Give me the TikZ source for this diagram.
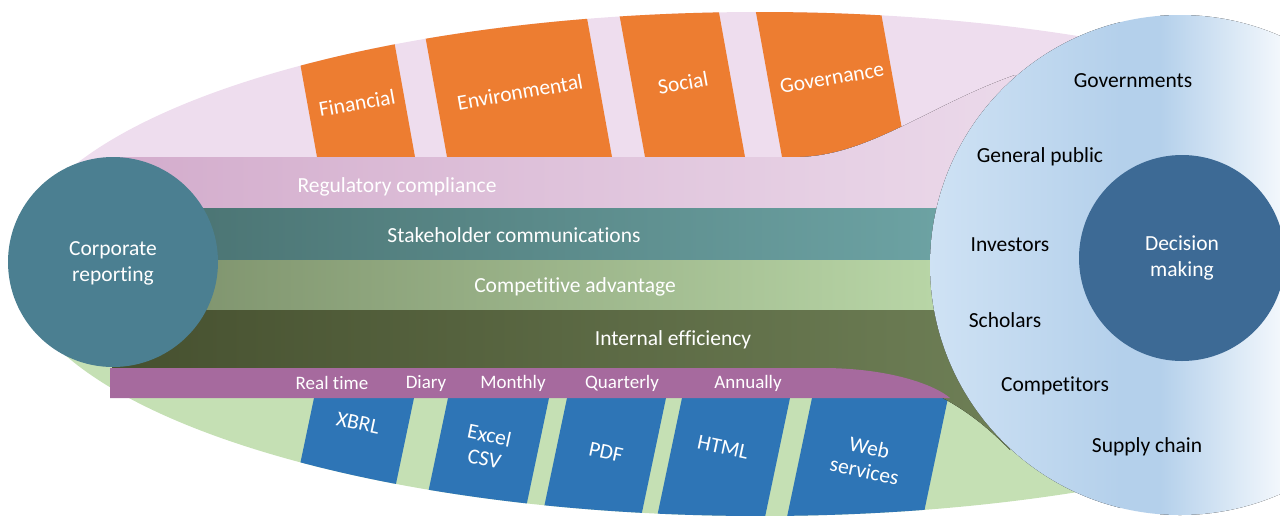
\documentclass[tikz,border=0pt]{standalone}
\usepackage{fontspec}
\setmainfont{Carlito}[Ligatures={NoCommon,NoRare,NoContextual}]
\definecolor{bgpink}{HTML}{EEDDEE}
\definecolor{bggreen}{HTML}{C5E0B4}
\definecolor{orangebox}{HTML}{ED7D31}
\definecolor{bluebox}{HTML}{2E75B6}
\definecolor{purplebar}{HTML}{A66A9E}
\definecolor{corpcirc}{HTML}{4B7F91}
\definecolor{deccirc}{HTML}{3D6A95}
\definecolor{regL}{HTML}{D3ACCC}
\definecolor{regR}{HTML}{EBD9EA}
\definecolor{stkL}{HTML}{48706F}
\definecolor{stkR}{HTML}{6FA6A7}
\definecolor{cmpL}{HTML}{7A8E69}
\definecolor{cmpR}{HTML}{BDDBAB}
\definecolor{intL}{HTML}{46502F}
\definecolor{intR}{HTML}{6E7F56}
\definecolor{bcA}{HTML}{CFE2F4}
\definecolor{bcB}{HTML}{B4D0EB}
\definecolor{bcD}{HTML}{F5F9FD}
\begin{document}
\begin{tikzpicture}[x=1pt,y=-1pt,
  bandtxt/.style={text=white,font=\fontsize{21.5}{26}\selectfont,align=center},
  bartxt/.style={text=white,font=\fontsize{19}{22}\selectfont},
  circtxt/.style={text=black,font=\fontsize{21.5}{26}\selectfont},
  boxtxt/.style={text=white,font=\fontsize{21.5}{24}\selectfont,align=center,inner sep=1pt},
]
\useasboundingbox (0,0) rectangle (1280,515);
% outer shape
\begin{scope}
  \clip (760,264) ellipse [x radius=745, y radius=252];
  \fill[bgpink] (0,-10) rectangle (1300,265);
  \fill[bggreen] (0,265) rectangle (1300,530);
  % orange boxes
  \foreach \l/\r in {317/415,447/612,645/745,782/907}{
    \fill[orangebox] ({\l+0.18*18},175) -- ({\r+0.18*18},175)
      -- ({\r-0.18*177},-20) -- ({\l-0.18*177},-20) -- cycle;
  }
  % blue boxes
  \foreach \l/\r in {314/414,448/549,567/666,682/790,812/948}{
    \fill[bluebox] ({\l+0.21*13},385) -- ({\r+0.21*13},385)
      -- ({\r-0.21*132},530) -- ({\l-0.21*132},530) -- cycle;
  }
\end{scope}
% bands
\fill[left color=regL,right color=regR]
  (112,157) -- (800,157) .. controls (870,155) and (930,105) .. (1015,75)
  -- (1015,209) -- (112,209) -- cycle;
\fill[left color=stkL,right color=stkR] (112,208) rectangle (1000,261);
\fill[left color=cmpL,right color=cmpR] (112,260) rectangle (1000,311);
\fill[left color=intL,right color=intR]
  (112,310) -- (1010,310) -- (1010,450) -- (1005,445)
  .. controls (950,390) and (890,368) .. (800,368) -- (112,368) -- cycle;
\fill[purplebar]
  (110,368) -- (822,368) .. controls (890,368) and (935,385) .. (950,398)
  -- (110,398) -- cycle;
% left circle
\fill[corpcirc] (113,262) circle[radius=105];
% big circle
\begin{scope}
  \clip (1180,265) circle[radius=250];
  \fill[left color=bcA,right color=bcB] (929,0) rectangle (1121,520);
  \fill[bcB] (1120,0) rectangle (1161,520);
  \fill[left color=bcB,right color=bcD] (1160,0) rectangle (1285,520);
\end{scope}
\fill[deccirc] (1182,258) circle[radius=103];
% band texts
\node[bandtxt] (reg) at (397,187) {Regulatory compliance};
\node[bandtxt] (stake) at (514,235) {Stakeholder communications};
\node[bandtxt] (comp) at (575,287) {Competitive advantage};
\node[bandtxt] (intl) at (673,340) {Internal efficiency};
% bar texts
\node[bartxt] (rt) at (332,383) {Real time};
\node[bartxt] (dy) at (426,383) {Diary};
\node[bartxt] (mo) at (513,383) {Monthly};
\node[bartxt] (qu) at (622,383) {Quarterly};
\node[bartxt] (an) at (748,383) {Annually};
% orange box texts
\node[boxtxt,rotate=10] (fin) at (357,103) {Financial};
\node[boxtxt,rotate=10] (env) at (520,92) {Environmental};
\node[boxtxt,rotate=10] (soc) at (683,83) {Social};
\node[boxtxt,rotate=10] (gov) at (832,78) {Governance};
% blue box texts
\node[boxtxt,rotate=-12] (xbrl) at (358,423) {XBRL};
\node[boxtxt,rotate=-12] (xls) at (487,447) {Excel\\CSV};
\node[boxtxt,rotate=-12] (pdf) at (606,452) {PDF};
\node[boxtxt,rotate=-12] (html) at (723,447) {HTML};
\node[boxtxt,rotate=-12] (web) at (867,459) {Web\\services};
% circles texts
\node[bandtxt] (corp) at (113,263) {Corporate\\reporting};
\node[bandtxt] (dec) at (1182,258) {Decision\\making};
\node[circtxt] (govs) at (1133,81) {Governments};
\node[circtxt] (pub) at (1040,157) {General public};
\node[circtxt] (inv) at (1010,245) {Investors};
\node[circtxt] (sch) at (1005,320) {Scholars};
\node[circtxt] (cpt) at (1055,386) {Competitors};
\node[circtxt] (sup) at (1147,447) {Supply chain};
\end{tikzpicture}
\end{document}
